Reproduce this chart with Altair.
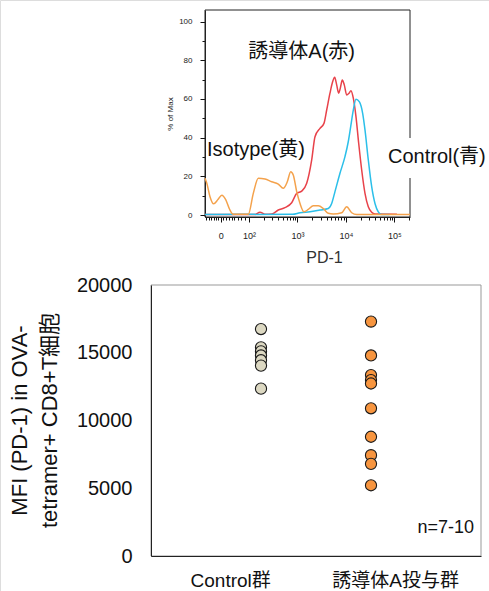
import math
import altair as alt
import pandas as pd

FONT = "Liberation Sans, Arial, Noto Sans CJK JP, sans-serif"

# ---------------- Top panel: PD-1 histogram overlay ----------------
# x = display position on the biexponential PD-1 axis (one unit per decade, 10^3 at 3)
# y = % of Max
ind_t = [1.093, 2.12, 2.227, 2.33, 2.468, 2.604, 2.742, 2.880, 2.984, 3.087, 3.190, 3.293,
         3.361, 3.464, 3.546, 3.602, 3.670, 3.726, 3.767, 3.808, 3.849, 3.882, 3.924, 3.965,
         4.014, 4.062, 4.103, 4.151, 4.206, 4.262, 4.324, 4.392, 4.460, 4.530, 4.598, 5.05]
ind_v = [0.3, 0.3, 1.5, 0.4, 0.5, 2.6, 3.8, 6.4, 11.2, 12.4, 16.4, 28.5,
         40.5, 44.8, 47.4, 54.3, 63.0, 69.0, 71.2, 67.3, 63.0, 65.5, 69.8, 67.3,
         62.1, 63.0, 64.3, 60.4, 50.9, 37.1, 23.3, 11.2, 4.3, 1.4, 0.5, 0.4]

ctrl_t = [1.093, 2.9, 3.052, 3.258, 3.464, 3.635, 3.705, 3.773, 3.876, 3.979, 4.047, 4.097,
          4.151, 4.206, 4.274, 4.344, 4.392, 4.460, 4.530, 4.598, 4.666, 4.736, 4.9]
ctrl_v = [0.3, 0.4, 1.2, 1.7, 2.6, 3.4, 6.0, 12.1, 21.6, 30.2, 37.9, 45.7,
          54.3, 59.9, 58.6, 52.6, 44.0, 28.5, 14.7, 6.0, 1.7, 0.3, 0.3]

iso_t = [1.093, 1.13, 1.196, 1.27, 1.36, 1.44, 1.52, 1.60, 1.676, 1.986, 2.089, 2.192, 2.330,
         2.468, 2.604, 2.707, 2.790, 2.860, 2.913, 2.984, 3.052, 3.134, 3.223, 3.326, 3.429,
         3.532, 3.635, 3.738, 3.911, 4.014, 4.118, 4.221, 5.32]
iso_v = [19.0, 16.5, 9.5, 5.8, 8.0, 10.3, 8.0, 3.0, 0.4, 0.4, 11.2, 19.0, 18.6,
         17.2, 16.0, 13.8, 17.2, 22.4, 20.7, 12.1, 6.0, 1.7, 2.9, 4.8, 4.8,
         3.4, 0.9, 0.5, 1.2, 4.3, 1.2, 0.3, 0.3]

x_major_pos = [1.42, 2, 3, 4, 5]
x_major_lab = ["0", "10²", "10³", "10⁴", "10⁵"]
x_minor_pos = [1.12, 1.17, 1.22, 1.27, 1.32, 1.37, 1.47, 1.52, 1.58, 1.64, 1.70, 1.77,
               1.84, 1.92] + [round(d + math.log10(k), 3) for d in (2, 3, 4) for k in range(2, 10)] + [5.301]
y_major_vals = [0, 20, 40, 60, 80, 100]
y_minor_vals = [10, 30, 50, 70, 90]

ann_text = ["誘導体A(赤)", "Isotype(黄)", "Control(青)"]
ann_t = [1.986, 1.134, 4.866]
ann_v = [84.5, 33.6, 30.0]
# white box behind the Control label (it sits on the frame)
mask_t = [4.83]
mask_t2 = [7.0]
mask_v = [19.1]
mask_v2 = [39.8]

X_DOM = [1.093, 5.32]
Y_DOM = [-1, 106]

# ---------------- Bottom panel: MFI dot plot ----------------
groups = ["Control群", "誘導体A投与群"]
group_pos = [1, 2]
group_label_pos = [0.72, 2.22]
control_vals = [16750, 15400, 15100, 14800, 14450, 14050, 12350]
induced_vals = [17300, 14800, 13350, 12980, 12730, 10900, 8800, 7440, 6800, 5220]
group_colors = ["#dcd8c2", "#f7953f"]
y2_ticks = [0, 5000, 10000, 15000, 20000]
n_text = "n=7-10"
n_pos = [2.936, 2046]

X2_DOM = [0, 3]
Y2_DOM = [0, 20000]

# ---------- build top panel ----------
def lab_expr(vals, labs):
    e = "''"
    for v, l in reversed(list(zip(vals, labs))):
        e = f"datum.value == {v} ? '{l}' : ({e})"
    return e

def js_list(vals):
    return "[" + ",".join(str(v) for v in vals) + "]"

top_x_axis = alt.Axis(
    orient="bottom", offset=-374, values=x_major_pos + x_minor_pos,
    labelExpr=lab_expr(x_major_pos, x_major_lab),
    tickSize={"condition": {"test": f"indexof({js_list(x_major_pos)}, datum.value) >= 0", "value": 5}, "value": 3},
    tickColor="#111", tickWidth=1, domainColor="#222", labelColor="#222", labelFontSize=9, labelPadding=9,
    labelFont=FONT, labelOverlap=False, grid=False,
    title="PD-1", titleFont=FONT, titleFontSize=16, titleFontWeight="normal", titleColor="#333",
    titleX=324, titleY=40, titleBaseline="middle", titleAlign="center", zindex=0)

top_y_axis = alt.Axis(
    orient="left", offset=-205, values=y_major_vals + y_minor_vals,
    labelExpr=f"indexof({js_list(y_major_vals)}, datum.value) >= 0 ? datum.label : ''",
    tickSize={"condition": {"test": f"indexof({js_list(y_major_vals)}, datum.value) >= 0", "value": 5}, "value": 3},
    tickColor="#111", tickWidth=1, domainColor="#222", labelColor="#222", labelFontSize=8, labelPadding=8,
    labelFont=FONT, grid=False,
    title="% of Max", titleFont=FONT, titleFontSize=8, titleFontWeight="normal", titleColor="#222",
    titleAngle=270, titleX=-35, titleY=113.5, titleBaseline="middle", titleAlign="center", zindex=0)

tscale_x = alt.Scale(domain=X_DOM, range=[205, 410], nice=False, zero=False)
tscale_y = alt.Scale(domain=Y_DOM, range=[217, 10], nice=False, zero=False)

def tx(f="t"):
    return alt.X(f"{f}:Q", scale=tscale_x, axis=top_x_axis)

def ty(f="v"):
    return alt.Y(f"{f}:Q", scale=tscale_y, axis=top_y_axis)

def line_layer(ts, vs, color):
    df = pd.DataFrame({"t": ts, "v": vs})
    return alt.Chart(df).mark_line(color=color, strokeWidth=1.5, interpolate="monotone", clip=True).encode(
        x=tx(), y=ty())

frame_top = alt.Chart(pd.DataFrame({"t": [X_DOM[0]], "t2": [X_DOM[1]], "v": [Y_DOM[0]], "v2": [Y_DOM[1]]})).mark_rect(
    fill=None, stroke="#222", strokeWidth=1).encode(x=tx(), x2="t2:Q", y=ty(), y2="v2:Q")

mask = alt.Chart(pd.DataFrame({"t": mask_t, "t2": mask_t2, "v": mask_v, "v2": mask_v2})).mark_rect(
    fill="white", stroke=None).encode(x=tx(), x2="t2:Q", y=ty(), y2="v2:Q")

ann = alt.Chart(pd.DataFrame({"t": ann_t, "v": ann_v, "txt": ann_text})).mark_text(
    align="left", baseline="middle", fontSize=20, font=FONT, color="#111").encode(
    x=tx(), y=ty(), text="txt:N")

top = alt.layer(
    frame_top,
    line_layer(ind_t, ind_v, "#e8424a"),
    line_layer(ctrl_t, ctrl_v, "#2bbfe9"),
    line_layer(iso_t, iso_v, "#f4a24c"),
    mask,
    ann,
)

# ---------- build bottom panel ----------
bscale_x = alt.Scale(domain=X2_DOM, range=[151, 481], nice=False, zero=False)
bscale_y = alt.Scale(domain=Y2_DOM, range=[556, 285], nice=False, zero=False)

bot_x_axis = alt.Axis(
    orient="bottom", offset=-35, values=group_label_pos,
    labelExpr=lab_expr(group_label_pos, groups),
    tickSize=0, domainColor="#222", labelColor="#111", labelFontSize=19, labelPadding=15,
    labelFont=FONT, grid=False, title=None, zindex=1)

bot_y_axis = alt.Axis(
    orient="left", offset=-151, values=y2_ticks, format="d",
    tickSize=0, domainColor="#222", labelColor="#111", labelFontSize=20, labelPadding=19,
    labelFont=FONT, grid=False,
    title=["MFI (PD-1) in OVA-", "tetramer+ CD8+T細胞"], titleFont=FONT, titleFontSize=22,
    titleFontWeight="normal", titleColor="#111", titleLineHeight=30,
    titleAngle=270, titleX=-132, titleY=420, titleBaseline="middle", titleAlign="center", zindex=1)

def bx(f="x"):
    return alt.X(f"{f}:Q", scale=bscale_x, axis=bot_x_axis)

def by(f="y"):
    return alt.Y(f"{f}:Q", scale=bscale_y, axis=bot_y_axis)

pts = pd.DataFrame({
    "grp": [groups[0]] * len(control_vals) + [groups[1]] * len(induced_vals),
    "x": [group_pos[0]] * len(control_vals) + [group_pos[1]] * len(induced_vals),
    "y": control_vals + induced_vals,
})

frame_bot = alt.Chart(pd.DataFrame({"x": [X2_DOM[0]], "x2": [X2_DOM[1]], "y": [Y2_DOM[0]], "y2": [Y2_DOM[1]]})).mark_rect(
    fill=None, stroke="#999", strokeWidth=1).encode(x=bx(), x2="x2:Q", y=by(), y2="y2:Q")

dots = alt.Chart(pts).mark_circle(size=125, opacity=1, stroke="#1a1a1a", strokeWidth=1.1).encode(
    x=bx(), y=by(),
    color=alt.Color("grp:N", scale=alt.Scale(domain=groups, range=group_colors), legend=None))

ntext = alt.Chart(pd.DataFrame({"x": [n_pos[0]], "y": [n_pos[1]], "txt": [n_text]})).mark_text(
    align="right", baseline="middle", fontSize=18, font=FONT, color="#111").encode(
    x=bx(), y=by(), text="txt:N")

bottom = alt.layer(frame_bot, dots, ntext)

chart = alt.layer(top, bottom).resolve_scale(x="independent", y="independent").properties(
    width=489, height=591, autosize=alt.AutoSizeParams(type="none"), padding=0,
    background="white",
).configure_view(stroke=None).configure(font=FONT)

chart.save("out.html", embed_options={"renderer": "svg", "actions": False})
